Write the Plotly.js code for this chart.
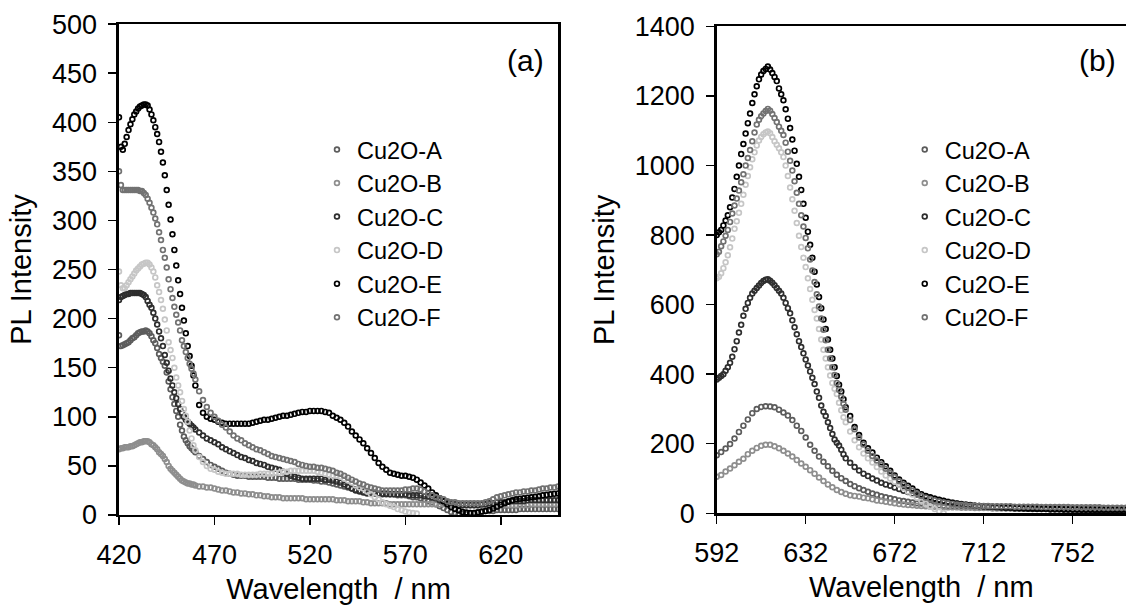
<!DOCTYPE html>
<html>
<head>
<meta charset="utf-8">
<script src="https://cdn.plot.ly/plotly-3.0.1.min.js"></script>
<style>html,body{margin:0;padding:0;background:#fff;}#chart{width:1126px;height:605px;}</style>
</head>
<body>
<div id="chart"></div>
<script>
// ---------- data ----------
const seriesNames = ['Cu2O-A', 'Cu2O-B', 'Cu2O-C', 'Cu2O-D', 'Cu2O-E', 'Cu2O-F'];

// panel (a) wavelength grid (nm)
const wlA = [420,421,422,423,424,425,426,427,428,429,430,431,432,433,434,435,436,437,438,439,440,441,442,443,444,445,446,447,448,449,450,451,452,453,454,455,456,457,458,459,460,
462,464,466,468,470,472,474,476,478,480,482,484,486,488,490,492,494,496,498,500,502,504,506,508,510,512,514,516,518,520,522,524,526,528,530,532,534,536,538,540,
542,544,546,548,550,552,554,556,558,560,562,564,566,568,570,572,574,576,578,580,582,584,586,588,590,592,594,596,598,600,602,604,606,608,610,612,614,616,618,620,
622,624,626,628,630,632,634,636,638,640,642,644,646,648,650];

const aA = [183,172,173,174,175,176,178,180,181,183, 185,186,187,187,188,187,185,182,178,175, 170,164,160,156,152,145,136,128,120,113, 106,100,92,86,80,76,73,70,68,66, 64,
60,57,54,51,49,47,45,43,42,41, 40,40,40,39,39,39,39,39,38,38, 38,37,37,37,37,37,36,36,36,36, 35,35,34,34,33,32,31,30,29,28,
27,26,25,24,24,23,23,22,22,22, 21,21,20,20,20,19,18,18,17,16, 14,13,11,9,7,5,3,2,1,1, 1,2,2,3,3,4,4,4,5,5, 5,5,5,5,6,6,6,6,6,6, 6,6,6,6,6];
const aB = [67,68,68,69,69,69,70,70,71,72, 73,74,74,75,75,75,74,72,71,69, 67,64,62,60,57,54,50,47,45,43, 41,39,37,35,34,33,32,32,31,31, 30,
29,29,28,28,27,26,25,25,24,23, 23,22,22,21,21,20,20,19,19,18, 18,18,17,17,17,17,17,17,16,16, 16,16,16,16,16,16,15,15,15,14,
14,14,14,13,13,12,12,12,12,12, 11,11,11,11,11,11,11,11,11,11, 11,11,11,11,11,11,10,10,10,10, 10,10,10,10,10,10,10,10,10,10, 10,10,10,10,10,10,10,11,11,11, 11,11,11,11,11];
const aC = [219,222,223,224,225,225,226,226,226,226, 226,226,225,224,222,218,214,211,206,200, 194,187,180,172,163,155,147,139,132,125, 119,113,108,104,100,97,95,93,91,89, 87,
84,81,78,76,74,72,69,67,65,63, 61,59,58,56,55,53,52,51,49,48, 47,46,44,42,40,39,38,37,37,37, 37,37,37,36,36,35,34,33,31,29,
27,25,24,23,22,22,22,21,21,21, 21,21,21,21,21,20,20,20,20,19, 19,18,17,15,14,13,12,11,10,10, 10,10,10,10,11,11,12,12,13,13, 13,14,14,14,14,14,15,15,15,15, 15,15,15,15,15];
const aD = [248,234,231,231,234,237,240,243,246,249, 251,253,255,256,257,257,255,252,248,242, 234,227,219,210,199,188,176,168,160,150, 140,132,125,116,108,101,95,86,78,71, 66,
59,54,50,47,46,44,43,42,42,42, 42,41,41,41,41,41,42,42,42,42, 43,43,44,44,45,45,45,45,45,45, 45,44,43,42,41,40,40,39,37,35,
33,30,28,27,24,21,18,16,13,11, 9.5,8,6,5,3.5,2.5,2,1.5];
const aE = [405,375,372,378,385,392,398,403,408,411, 414,416,417,418,418,417,413,408,402,395, 388,380,370,359,346,331,316,301,286,270, 254,239,225,211,198,185,172,162,152,142, 132,
112,104,100,98,97,95,94,93,93,93, 93,93,93,93,94,95,96,97,97,98, 99,100,101,101,102,103,104,105,105,106, 106,106,106,105,104,101,99,97,94,90,
85,81,77,73,68,63,58,53,49,46, 43,42,41,40,40,39,38,36,33,30, 27,23,20,17,14,11,8,6,4.5,3, 2.5,2,2,2.5,3.5,4,5,6.5,8.5,10.5, 12,13.5,15,16,16.5,17,17.5,18,18.5,19, 20,20.5,21,21.5,22];
const aF = [350,336,331,331,331,331,331,331,331,331, 331,330,330,328,326,322,318,313,308,302, 296,288,280,270,262,252,240,230,221,212, 204,196,188,178,172,166,160,154,149,144, 138,
126,117,110,104,100,96,92,89,85,81, 78,76,73,71,69,67,66,64,62,60, 59,58,57,56,55,54,52,51,50,49, 49,48,48,47,46,45,43,42,40,38,
36,34,32,31,29,28,27,26,25,25, 25,25,25,25,26,26,27,27,26,24, 22,20,18,17,16,14,13,13,12,12, 12,12,12,12,12,13,14,16,18,19, 20,21,22,23,23,24,24,25,25,26, 27,27,28,28,29];

// panel (b) wavelength grids (nm)
const wlB = [592,593,594,595,596,597,598,599,600,601,602,603,604,605,606,607,608,609,610,611,612,613,614,615,616,617,618,619,620,621,622,623,624,625,626,627,628,629,630,631,632,633,634,635,636,637,638,639,640,641,642,643,644,645,646,647,648,649,650,
652,654,656,658,660,662,664,666,668,670,672,674,676,678,680,682,684,686,688,690,692,694,696,698,700,702,704,706,708,710,712,714,716,718,720,722,724,726,728,730,
732,734,736,738,740,742,744,746,748,750,752,754,756,758,760,762,764,766,768,770,772,774,776];
const wlB2 = [592,594,596,598,600,602,604,606,608,610,612,614,616,618,620,622,624,626,628,630,632,634,636,638,640,642,644,646,648,650,
652,654,656,658,660,662,664,666,668,670,672,674,676,678,680,682,684,686,688,690,692,694,696,698,700,702,704,706,708,710,712,714,716,718,720,722,724,726,728,730,
732,734,736,738,740,742,744,746,748,750,752,754,756,758,760,762,764,766,768,770,772,774,776];

const bA = [167,176,186,199,215,234,252,270,288,300, 306,308,307,305,298,290,281,268,252,237, 218,197,180,163,148,135,122,111,101,93,
84,78,72,67,62,57,53,49,46,43, 40,37,35,33,31,29,28,26,25,24, 23,22,21,21,20,20,19,19,18,18, 18,17,17,17,16,16,16,16,15,15,
15,15,15,14,14,14,14,14,14,14, 13,13,13,13,13,13,13,13,13,13, 13,13,13];
const bB = [105,110,120,129,138,148,157,170,180,188, 194,197,197,193,187,180,172,163,153,143, 134,124,114,103,93,83,75,67,61,56,
52,50,48,45,43,40,37,35,33,31, 29,27,25,24,23,22,21,20,19,19, 18,18,17,17,17,16,16,16,15,15, 15,15,14,14,14,14,14,13,13,13,
13,13,13,12,12,12,12,12,12,12, 12,12,12,12,12,12,12,12,12,12, 12,12,12];
const bC = [385,390,395,400,410,420,433,450,472,495, 520,542,568,588,605,620,632,640,648,655, 662,668,672,673,669,663,656,648,640,632,
620,605,590,575,555,535,515,495,478,460, 442,425,408,390,372,350,332,310,292,280, 262,245,228,212,203,195,183,170,158,
145,133,123,114,107,100,94,88,83,79, 74,70,65,61,57,54,50,47,44,42, 39,36,33,31,29,27,25,24,22,21, 20,19,18,17,16,15,15,14,14,13,
13,12,12,12,12,11,11,11,11,11, 10,10,10,10,10,9,9,9,9,9, 9,9,9];
const bD = [676,680,690,705,722,742,765,790,818,840, 864,890,916,945,970,995,1018,1038,1058,1072, 1082,1090,1095,1098,1093,1082,1070,1060,1050,1038,
1025,1000,970,937,903,870,835,798,766,735, 708,676,645,614,585,560,530,500,470,445, 420,396,375,358,343,318,296,276,262,
235,210,190,172,158,146,133,120,109,100, 91,82,73,63,54,45,36,27,19,12, 6,1];
const bE = [800,808,815,828,842,857,880,908,933,968, 1000,1033,1062,1092,1122,1150,1180,1205,1228,1248, 1262,1272,1278,1285,1276,1266,1255,1243,1222,1205,
1188,1162,1135,1108,1075,1043,1005,968,930,890, 850,810,772,735,695,658,622,590,557,530, 500,470,445,420,395,370,350,328,305,
280,248,225,203,187,175,160,147,135,122, 109,97,88,79,71,62,55,50,46,42, 38,35,32,29,27,25,24,23,22,21, 20,20,19,19,18,17,17,16,15,15,
14,14,13,13,13,12,12,12,11,11, 11,11,10,10,10,10,10,10,10,10, 10,10,10];
const bF = [745,752,768,782,798,815,838,862,885,905, 928,952,975,1000,1022,1045,1070,1095,1118,1132, 1142,1150,1157,1163,1158,1148,1137,1125,1112,1100,
1088,1066,1040,1014,986,955,922,890,857,825, 792,762,730,698,665,630,595,560,528,498, 470,445,420,398,375,355,335,315,298,
268,242,218,198,180,165,152,140,128,116, 104,92,82,73,65,57,50,45,41,37, 34,31,29,27,25,24,23,22,22,21, 21,21,20,20,20,20,20,19,19,19,
19,19,19,18,18,18,18,18,18,18, 17,17,17,17,17,17,17,16,16,16, 16,16,16];

// ---------- styling ----------
const colors = ['#5c5c5c', '#8e8e8e', '#2e2e2e', '#c6c6c6', '#000000', '#727272'];
const FONT = 'Liberation Sans, Arial, Helvetica, sans-serif';

function mk(x, y, i, xa, ya, lg) {
  return {
    type: 'scatter', mode: 'markers', x: x, y: y, name: seriesNames[i],
    xaxis: xa, yaxis: ya, legend: lg, cliponaxis: true,
    marker: {symbol: 'circle-open', size: 4.8, color: colors[i], line: {width: 1.7, color: colors[i]}}
  };
}

const panelA = [aA, aB, aC, aD, aE, aF];
const panelB = [[wlB2, bA], [wlB2, bB], [wlB, bC], [wlB, bD], [wlB, bE], [wlB, bF]];
const traces = [];
panelA.forEach((y, i) => traces.push(mk(wlA, y, i, 'x', 'y', 'legend')));
panelB.forEach((p, i) => traces.push(mk(p[0], p[1], i, 'x2', 'y2', 'legend2')));

const axBase = {
  showline: true, linewidth: 2.5, linecolor: '#000', mirror: true,
  ticks: 'outside', ticklen: 8, tickwidth: 1.5, tickcolor: '#000',
  showgrid: false, zeroline: false, tickfont: {size: 27, family: FONT, color: '#000'},
  ticklabelstandoff: 6, fixedrange: true
};
const xTitle = (t) => ({text: t, font: {size: 29, family: FONT, color: '#000'}, standoff: 10});
const yTitle = (t) => ({text: t, font: {size: 29, family: FONT, color: '#000'}, standoff: 12});

const legFont = {size: 23.5, family: FONT, color: '#000'};
const layout = {
  width: 1126, height: 605,
  margin: {l: 0, r: 0, t: 0, b: 0},
  paper_bgcolor: '#fff', plot_bgcolor: '#fff',
  font: {family: FONT, color: '#000'},
  showlegend: true,
  xaxis: Object.assign({}, axBase, {domain: [0.10568, 0.4956], range: [420, 650], tick0: 420, dtick: 50, anchor: 'y', title: xTitle('Wavelength\u00a0 / nm')}),
  yaxis: Object.assign({}, axBase, {domain: [0.1488, 0.9602], range: [0, 500], tick0: 0, dtick: 50, anchor: 'x', title: yTitle('PL Intensity')}),
  xaxis2: Object.assign({}, axBase, {domain: [0.6365, 1.0], range: [592, 776], tick0: 592, dtick: 40, anchor: 'y2', title: xTitle('Wavelength\u00a0 / nm')}),
  yaxis2: Object.assign({}, axBase, {domain: [0.1516, 0.9562], range: [0, 1400], tick0: 0, dtick: 200, anchor: 'x2', title: yTitle('PL Intensity')}),
  legend: {x: 0.2815, y: 0.789, xanchor: 'left', yanchor: 'top', bgcolor: 'rgba(0,0,0,0)', borderwidth: 0, font: legFont, tracegroupgap: 0},
  legend2: {x: 0.8035, y: 0.789, xanchor: 'left', yanchor: 'top', bgcolor: 'rgba(0,0,0,0)', borderwidth: 0, font: legFont, tracegroupgap: 0},
  annotations: [
    {text: '(a)', xref: 'paper', yref: 'paper', x: 0.4663, y: 0.90, xanchor: 'center', yanchor: 'middle', showarrow: false, font: {size: 30, family: FONT, color: '#000'}},
    {text: '(b)', xref: 'paper', yref: 'paper', x: 0.975, y: 0.90, xanchor: 'center', yanchor: 'middle', showarrow: false, font: {size: 30, family: FONT, color: '#000'}}
  ]
};

Plotly.newPlot('chart', traces, layout, {staticPlot: true, displayModeBar: false});
</script>
</body>
</html>
